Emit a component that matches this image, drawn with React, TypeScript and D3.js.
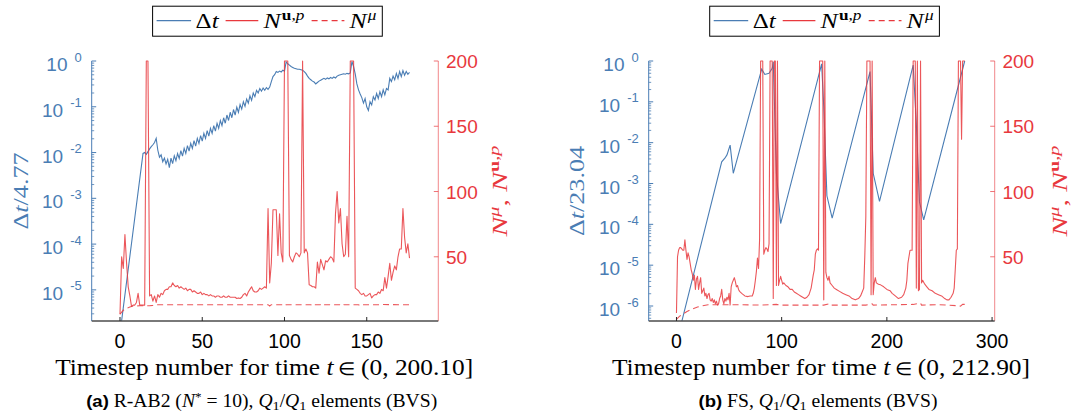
import React from 'react';
import * as d3 from 'd3';

const BLUE = '#4a7db4';
const RED = '#e8383d';
const SANS = 'Liberation Sans, Arial, sans-serif';
const SERIF = 'Liberation Serif, Times New Roman, serif';

type P = [number, number];

// ---------- Panel (a) data: [timestep, log10(dt)] and [timestep, N] ----------
const dtExpA: P[] = [
  [0, -5.95], [14, -2.02], [15, -2.0], [16, -2.04], [17, -1.98], [18, -1.92], [19, -1.87], [20, -1.83],
  [21, -1.78], [22, -1.69], [23, -1.95], [24, -2.1], [25, -2.05], [26, -2.2], [27, -2.12], [28, -2.25],
  [29, -2.15], [30, -2.33], [31, -2.12], [32, -2.24], [33, -2.07], [34, -2.18], [35, -2.02], [36, -2.13],
  [37, -1.96], [38, -2.08], [39, -1.91], [40, -2.02], [41, -1.85], [42, -1.97], [43, -1.8], [44, -1.91],
  [45, -1.74], [46, -1.86], [47, -1.69], [48, -1.8], [49, -1.63], [50, -1.75], [51, -1.58], [52, -1.69],
  [53, -1.52], [54, -1.64], [55, -1.47], [56, -1.58], [57, -1.41], [58, -1.53], [59, -1.36], [60, -1.47],
  [61, -1.3], [62, -1.41], [63, -1.24], [64, -1.36], [65, -1.18], [66, -1.3], [67, -1.12], [68, -1.24],
  [69, -1.06], [70, -1.18], [71, -1.01], [72, -1.12], [73, -0.95], [74, -1.05], [75, -0.89], [76, -0.99],
  [77, -0.83], [78, -0.92], [79, -0.76], [80, -0.86], [81, -0.7], [82, -0.78], [83, -0.64], [84, -0.7],
  [85, -0.6], [86, -0.66], [87, -0.59], [88, -0.64], [89, -0.58], [90, -0.62], [91, -0.57], [92, -0.45],
  [93, -0.34], [94, -0.3], [95, -0.23], [96, -0.25], [97, -0.22], [98, -0.24], [99, -0.2], [100, -0.22],
  [101, -0.02], [102, -0.06], [103, -0.09], [104, -0.12], [105, -0.14], [106, -0.16], [107, -0.17], [108, -0.18],
  [109, -0.18], [110, -0.19], [111, -0.2], [112, -0.23], [113, -0.27], [114, -0.33], [115, -0.38], [116, -0.41],
  [117, -0.44], [118, -0.46], [119, -0.5], [120, -0.47], [121, -0.44], [122, -0.42], [123, -0.4], [124, -0.38],
  [125, -0.4], [126, -0.37], [127, -0.39], [128, -0.36], [129, -0.38], [130, -0.35], [131, -0.37], [132, -0.33],
  [133, -0.31], [134, -0.3], [135, -0.29], [136, -0.28], [137, -0.29], [138, -0.27], [139, -0.28], [140, -0.26],
  [141, -0.01], [142, -0.12], [143, -0.28], [144, -0.5], [145, -0.63], [146, -0.72], [147, -0.8], [148, -0.92],
  [149, -0.82], [150, -1.0], [151, -1.08], [152, -0.89], [153, -0.96], [154, -0.78], [155, -0.85], [156, -0.71],
  [157, -0.82], [158, -0.67], [159, -0.78], [160, -0.63], [161, -0.74], [162, -0.6], [163, -0.63], [164, -0.38],
  [165, -0.45], [166, -0.33], [167, -0.41], [168, -0.27], [169, -0.38], [170, -0.23], [171, -0.34], [172, -0.21],
  [173, -0.31], [174, -0.23], [175, -0.29], [176, -0.25],
];

const nupA: P[] = [
  [0, 6], [1, 50], [2, 41], [3, 67], [4, 45], [5, 27], [6, 20], [7, 12], [8, 13], [9, 13], [10, 15], [11, 22],
  [12, 13], [13, 13], [14, 13], [15, 13], [16, 200], [17, 200], [18, 20], [19, 21], [20, 16], [21, 20], [22, 15],
  [23, 21], [24, 19], [25, 22], [26, 21], [27, 24], [28, 25], [29, 25], [30, 27], [31, 27], [32, 30], [33, 28],
  [34, 27], [35, 28], [36, 26], [37, 27], [38, 26], [39, 25], [40, 26], [41, 24], [42, 25], [43, 25], [44, 23],
  [45, 24], [46, 23], [47, 22], [48, 22], [49, 23], [50, 21], [51, 22], [52, 21], [53, 21], [54, 20], [55, 21],
  [56, 20], [57, 20], [58, 19], [59, 20], [60, 20], [61, 19], [62, 19], [63, 20], [64, 19], [65, 19], [66, 20],
  [67, 19], [68, 19], [69, 19], [70, 19], [71, 18], [72, 18.5], [73, 18], [74, 19], [75, 21], [76, 22], [77, 20],
  [78, 23], [79, 25], [80, 27], [81, 24], [82, 23], [83, 23], [84, 24], [85, 26], [86, 25], [87, 26], [88, 27],
  [89, 26], [90, 87], [91, 30], [92, 45], [93, 86], [94, 86], [95, 86], [96, 51], [97, 83], [98, 53], [99, 46],
  [100, 200], [101, 200], [102, 200], [103, 51], [104, 48], [105, 46], [106, 50], [107, 53], [108, 52], [109, 50],
  [110, 53], [111, 200], [112, 53], [113, 56], [114, 53], [115, 28.5], [116, 28], [117, 27], [118, 27], [119, 26],
  [120, 46], [121, 37.5], [122, 48], [123, 44], [124, 40], [125, 47], [126, 46], [127, 48], [128, 50], [129, 49],
  [130, 46], [131, 83], [132, 100], [133, 76], [134, 87], [135, 60], [136, 50], [137, 52], [138, 81], [139, 50],
  [140, 200], [141, 200], [142, 200], [143, 26], [144, 25], [145, 24], [146, 22], [147, 21], [148, 22], [149, 20],
  [150, 20], [151, 21], [152, 22], [153, 18.5], [154, 20], [155, 21], [156, 21], [157, 23], [158, 22], [159, 25],
  [160, 24], [161, 34], [162, 26], [163, 35], [164, 45], [165, 32], [166, 38], [167, 43], [168, 40], [169, 50],
  [170, 56], [171, 56], [172, 87], [173, 65], [174, 53], [175, 60], [176, 49],
];

const nmuA: P[] = [
  [0, 6], [2, 9], [4, 10.5], [6, 11.5], [8, 12.3], [12, 12.5], [18, 12.5], [20, 12.8], [22, 13.3], [60, 13.3],
  [90, 13.3], [91, 12.3], [92, 13.3], [99, 13.3], [100, 12.5], [101, 13.3], [116, 13.3], [117, 12.4], [118, 13.3],
  [122, 13.3], [123, 12.4], [124, 13.3], [134, 13.3], [135, 12.5], [136, 13.3], [145, 13.3], [146, 12.6],
  [147, 13.3], [155, 13.2], [160, 13.4], [170, 13.3], [176, 13.2],
];

// ---------- Panel (b) data ----------
const dtExpB: P[] = [
  [0, -6.9], [43, -2.47], [46, -2.38], [48, -2.3], [51, -2.06], [54, -2.75], [81, -0.2], [84, -0.33],
  [88, -0.3], [91, -0.18], [92, -0.02], [95, -2.75], [99, -3.98], [138, -0.07], [140, -1.12], [143, -3.3],
  [148, -3.85], [184, -0.26], [187, -2.75], [193, -3.44], [225, -0.1], [228, -1.53], [231, -3.45],
  [235, -3.89], [274, 0.0],
];

const nupB: P[] = [
  [0, 7], [1, 50], [2, 55], [3, 57], [4, 57], [5, 56], [6, 55], [7, 55], [8, 63], [9, 55], [10, 48], [11, 53],
  [12, 50], [13, 45], [14, 40], [15, 37], [16, 32], [17, 36], [18, 25], [19, 33], [20, 35], [21, 25], [22, 30],
  [23, 34], [24, 22], [25, 24], [26, 26], [27, 20], [28, 22], [29, 18], [30, 21], [31, 22], [32, 17], [33, 16],
  [34, 18], [35, 15], [36, 17], [37, 14], [38, 16], [39, 13], [40, 14], [41, 18], [42, 20], [43, 25], [44, 17],
  [45, 14], [46, 18], [47, 16], [48, 19], [49, 17], [50, 22], [51, 13], [52, 27], [53, 30], [54, 32], [55, 34],
  [56, 31], [57, 27], [58, 28], [59, 25], [60, 23.5], [62, 22], [65, 20], [68, 19.5], [70, 20], [72, 20],
  [73, 22], [74, 26], [75, 32], [76, 39], [77, 49], [78, 41], [79, 63], [80, 200], [81, 200], [82, 200], [83, 52],
  [84, 55], [85, 57], [86, 56], [87, 54], [88, 60], [89, 200], [90, 200], [91, 200], [92, 18], [93, 200],
  [94, 200], [95, 28], [96, 200], [97, 28], [98, 32], [99, 35], [100, 32], [101, 29], [102, 30], [104, 28],
  [106, 27], [108, 25], [110, 25], [112, 23], [114, 22], [116, 21], [118, 20], [120, 19], [122, 18], [124, 19],
  [126, 21], [128, 26], [130, 36], [131, 40], [132, 52], [133, 55], [134, 56], [135, 55], [136, 200], [137, 200],
  [138, 200], [139, 200], [140, 17], [141, 200], [142, 38], [143, 34], [144, 32], [145, 35], [146, 30], [148, 28],
  [150, 26], [152, 25], [155, 23.5], [158, 22], [161, 21], [164, 20], [167, 18], [170, 17], [173, 18], [175, 20],
  [177, 24], [178, 26], [179, 50], [180, 81], [181, 200], [182, 200], [183, 200], [184, 200], [185, 21],
  [186, 200], [187, 21], [188, 30], [189, 34], [190, 30], [192, 29], [194, 28.5], [197, 27], [200, 25], [203, 24],
  [205, 22], [208, 20], [211, 18], [214, 19], [216, 21], [218, 26], [219, 32], [220, 45], [221, 50], [222, 55],
  [224, 55], [225, 200], [226, 200], [227, 200], [228, 26], [229, 200], [230, 24], [231, 25], [232, 200],
  [233, 30], [234, 32], [236, 29], [238, 27], [240, 25], [243, 24], [246, 22], [249, 21], [252, 20], [255, 18],
  [257, 17], [259, 17], [261, 19], [263, 22], [264, 26], [265, 40], [266, 55], [267, 56], [268, 200], [269, 200],
  [270, 200], [271, 140], [272, 200], [273, 200], [274, 200],
];

const nmuB: P[] = [
  [0, 2], [3, 4.5], [6, 6], [10, 8], [15, 10], [20, 11.5], [25, 12.5], [30, 13.3], [60, 13.3], [80, 13],
  [95, 13.5], [100, 13], [140, 13], [145, 14], [146, 13], [180, 13], [186, 14], [187, 13], [225, 13.5],
  [232, 14.5], [233, 13], [250, 13.3], [268, 12.5], [270, 12.2], [272, 13.5], [274, 13.5],
];

// ---------- ticks ----------
const xTicksA = [0, 50, 100, 150];
const xTicksB = [0, 100, 200, 300];
const expTicksA = [-5, -4, -3, -2, -1, 0];
const expTicksB = [-6, -5, -4, -3, -2, -1, 0];
const nTicks = [50, 100, 150, 200];

interface Cfg {
  id: string;
  left: number; right: number; top: number; bottom: number;
  xDomain: [number, number]; xTicks: number[];
  yMinExp: number; expTicks: number[];
  dt: P[]; nup: P[]; nmu: P[];
  leftLabel: string; leftLabelX: number; leftLabelLen: number; rightLabelX: number; rightLabelLen: number;
  xLabelEnd: string; xLabelX: number;
  captionTag: string; captionX: number; captionLen: number; variant: 'a' | 'b';
  legendX: number;
}

const cfgA: Cfg = {
  id: 'a', left: 91.7, right: 438.3, top: 61, bottom: 321,
  xDomain: [-17.2, 193.5], xTicks: xTicksA, yMinExp: -5.68, expTicks: expTicksA,
  dt: dtExpA, nup: nupA, nmu: nmuA,
  leftLabel: '4.77', leftLabelX: 28.3, leftLabelLen: 77, rightLabelX: 507.3, rightLabelLen: 91,
  xLabelEnd: '(0, 200.10]', xLabelX: 264.2, captionTag: '(a)', captionX: 261.7, captionLen: 351, variant: 'a',
  legendX: 152.6,
};
const cfgB: Cfg = {
  id: 'b', left: 648.7, right: 994.7, top: 61, bottom: 321,
  xDomain: [-26.4, 302.5], xTicks: xTicksB, yMinExp: -6.367, expTicks: expTicksB,
  dt: dtExpB, nup: nupB, nmu: nmuB,
  leftLabel: '23.04', leftLabelX: 583.7, leftLabelLen: 90, rightLabelX: 1066.5, rightLabelLen: 91,
  xLabelEnd: '(0, 212.90]', xLabelX: 821, captionTag: '(b)', captionX: 818, captionLen: 239, variant: 'b',
  legendX: 709.7,
};

function Legend({ x0 }: { x0: number }) {
  const yc = 20.7;
  const base = 27.5;
  return (
    <g>
      <rect x={x0} y={6.2} width={229.7} height={30} fill="#fff" stroke="#000" strokeWidth={1} />
      <line x1={x0 + 4} x2={x0 + 38.5} y1={yc} y2={yc} stroke={BLUE} strokeWidth={1.2} />
      <text x={x0 + 43} y={base} fontFamily={SERIF} fontSize={21} fill="#000" textLength={23} lengthAdjust="spacingAndGlyphs">
        Δ<tspan fontStyle="italic">t</tspan>
      </text>
      <line x1={x0 + 73} x2={x0 + 105.7} y1={yc} y2={yc} stroke={RED} strokeWidth={1.2} />
      <text x={x0 + 110.8} y={base} fontFamily={SERIF} fontSize={21} fill="#000" textLength={41} lengthAdjust="spacingAndGlyphs">
        <tspan fontStyle="italic">N</tspan>
        <tspan dx={1} dy={-8} fontSize={14} fontWeight="bold">u</tspan>
        <tspan fontSize={14}>,</tspan>
        <tspan fontSize={14} fontStyle="italic">p</tspan>
      </text>
      <line x1={x0 + 159} x2={x0 + 191.8} y1={yc} y2={yc} stroke={RED} strokeWidth={1.2} strokeDasharray="6,4" />
      <text x={x0 + 196.9} y={base} fontFamily={SERIF} fontSize={21} fill="#000" textLength={27} lengthAdjust="spacingAndGlyphs">
        <tspan fontStyle="italic">N</tspan>
        <tspan dx={1} dy={-8} fontSize={14} fontStyle="italic">μ</tspan>
      </text>
    </g>
  );
}

function Panel({ c }: { c: Cfg }) {
  const x = d3.scaleLinear().domain(c.xDomain).range([c.left, c.right]);
  const yL = d3.scaleLog().domain([Math.pow(10, c.yMinExp), 1]).range([c.bottom, c.top]);
  const yR = d3.scaleLinear().domain([0.8, 200]).range([c.bottom, c.top]);
  const lineDt = d3.line<P>().x((d) => x(d[0])).y((d) => yL(Math.pow(10, d[1])));
  const lineN = d3.line<P>().x((d) => x(d[0])).y((d) => yR(d[1]));

  const minor: number[] = [];
  for (let e = Math.floor(c.yMinExp); e < 0; e++) {
    for (let m = 2; m <= 9; m++) {
      const v = m * Math.pow(10, e);
      if (v >= Math.pow(10, c.yMinExp) && v < 1) minor.push(v);
    }
  }
  const clipId = 'clip-' + c.id;
  const midY = (c.top + c.bottom) / 2;

  return (
    <g>
      <defs>
        <clipPath id={clipId}>
          <rect x={c.left} y={c.top - 1} width={c.right - c.left} height={c.bottom - c.top + 1} />
        </clipPath>
      </defs>
      {/* data */}
      <g clipPath={`url(#${clipId})`} fill="none">
        <path d={lineDt(c.dt) || ''} stroke={BLUE} strokeWidth={1.1} />
        <path d={lineN(c.nmu) || ''} stroke={RED} strokeOpacity={0.85} strokeWidth={1.1} strokeDasharray="6,4" />
        <path d={lineN(c.nup) || ''} stroke={RED} strokeOpacity={0.85} strokeWidth={1.1} strokeLinejoin="round" />
      </g>
      {/* left axis */}
      <line x1={c.left} x2={c.left} y1={c.top} y2={c.bottom} stroke={BLUE} strokeWidth={1} />
      {minor.map((v, i) => (
        <line key={'m' + i} x1={c.left} x2={c.left + 2.5} y1={yL(v)} y2={yL(v)} stroke={BLUE} strokeWidth={0.8} />
      ))}
      {c.expTicks.map((e) => {
        const yy = yL(Math.pow(10, e));
        return (
          <g key={'e' + e}>
            <line x1={c.left} x2={c.left + 4.5} y1={yy} y2={yy} stroke={BLUE} strokeWidth={1} />
            <text x={c.left - 10} y={yy + 10} textAnchor="end" fontFamily={SANS} fontSize={19} fill={BLUE}>
              10<tspan dx={7} dy={-9.5} fontSize={13}>{e === 0 ? '0' : '-' + -e}</tspan>
            </text>
          </g>
        );
      })}
      {/* right axis */}
      <line x1={c.right} x2={c.right} y1={c.top} y2={c.bottom} stroke={RED} strokeOpacity={0.6} strokeWidth={1} />
      {nTicks.map((n) => (
        <g key={'n' + n}>
          <line x1={c.right - 4.5} x2={c.right} y1={yR(n)} y2={yR(n)} stroke={RED} strokeOpacity={0.7} strokeWidth={1} />
          <text x={c.right + 7.7} y={yR(n) + 7.2} fontFamily={SANS} fontSize={19} fill={RED}>
            {n}
          </text>
        </g>
      ))}
      {/* bottom axis */}
      <line x1={c.left} x2={c.right} y1={c.bottom} y2={c.bottom} stroke="#4d4d4d" strokeWidth={1.6} />
      {c.xTicks.map((t) => (
        <g key={'x' + t}>
          <line x1={x(t)} x2={x(t)} y1={c.bottom} y2={c.bottom - 4} stroke="#262626" strokeWidth={1} />
          <text x={x(t)} y={348} textAnchor="middle" fontFamily={SANS} fontSize={19.5} fill="#000">
            {t}
          </text>
        </g>
      ))}
      {/* axis labels */}
      <text
        transform={`translate(${c.leftLabelX},${midY}) rotate(-90)`}
        textAnchor="middle"
        fontFamily={SERIF}
        fontSize={22}
        fill={BLUE}
        textLength={c.leftLabelLen}
        lengthAdjust="spacingAndGlyphs"
      >
        Δ<tspan fontStyle="italic">t</tspan>/{c.leftLabel}
      </text>
      <text
        transform={`translate(${c.rightLabelX},${midY}) rotate(-90)`}
        textAnchor="middle"
        fontFamily={SERIF}
        fontSize={22}
        fill={RED}
        textLength={c.rightLabelLen}
        lengthAdjust="spacingAndGlyphs"
      >
        <tspan fontStyle="italic">N</tspan>
        <tspan dy={-8} fontSize={15} fontStyle="italic">μ</tspan>
        <tspan dy={8}>{', '}</tspan>
        <tspan fontStyle="italic">N</tspan>
        <tspan dy={-8} fontSize={15} fontWeight="bold">u</tspan>
        <tspan fontSize={15}>,</tspan>
        <tspan fontSize={15} fontStyle="italic">p</tspan>
      </text>
      <text
        x={c.xLabelX}
        y={375}
        textAnchor="middle"
        fontFamily={SERIF}
        fontSize={23}
        fill="#000"
        textLength={418}
        lengthAdjust="spacingAndGlyphs"
      >
        {'Timestep number for time '}
        <tspan fontStyle="italic">t</tspan>
        <tspan fontSize={18}>{' ∈ '}</tspan>
        {c.xLabelEnd}
      </text>
      {/* caption */}
      {c.variant === 'a' ? (
        <text x={c.captionX} y={406.5} textAnchor="middle" fontFamily={SERIF} fontSize={18} fill="#000" textLength={c.captionLen} lengthAdjust="spacingAndGlyphs">
          <tspan fontFamily={SANS} fontWeight="bold" fontSize={17}>{c.captionTag}</tspan>
          {' R-AB2 ('}
          <tspan fontStyle="italic">N</tspan>
          <tspan dy={-6} fontSize={12}>*</tspan>
          <tspan dy={6}>{' = 10), '}</tspan>
          <tspan fontStyle="italic">Q</tspan>
          <tspan dy={3} fontSize={13}>1</tspan>
          <tspan dy={-3}>/</tspan>
          <tspan fontStyle="italic">Q</tspan>
          <tspan dy={3} fontSize={13}>1</tspan>
          <tspan dy={-3}>{' elements (BVS)'}</tspan>
        </text>
      ) : (
        <text x={c.captionX} y={406.5} textAnchor="middle" fontFamily={SERIF} fontSize={18} fill="#000" textLength={c.captionLen} lengthAdjust="spacingAndGlyphs">
          <tspan fontFamily={SANS} fontWeight="bold" fontSize={17}>{c.captionTag}</tspan>
          {' FS, '}
          <tspan fontStyle="italic">Q</tspan>
          <tspan dy={3} fontSize={13}>1</tspan>
          <tspan dy={-3}>/</tspan>
          <tspan fontStyle="italic">Q</tspan>
          <tspan dy={3} fontSize={13}>1</tspan>
          <tspan dy={-3}>{' elements (BVS)'}</tspan>
        </text>
      )}
      <Legend x0={c.legendX} />
    </g>
  );
}

export default function App() {
  return (
    <>
      <style>{'body{margin:0;}'}</style>
      <svg width={1072} height={419} style={{ display: 'block', background: '#fff' }}>
        <rect width={1072} height={419} fill="#fff" />
        <Panel c={cfgA} />
        <Panel c={cfgB} />
      </svg>
    </>
  );
}
